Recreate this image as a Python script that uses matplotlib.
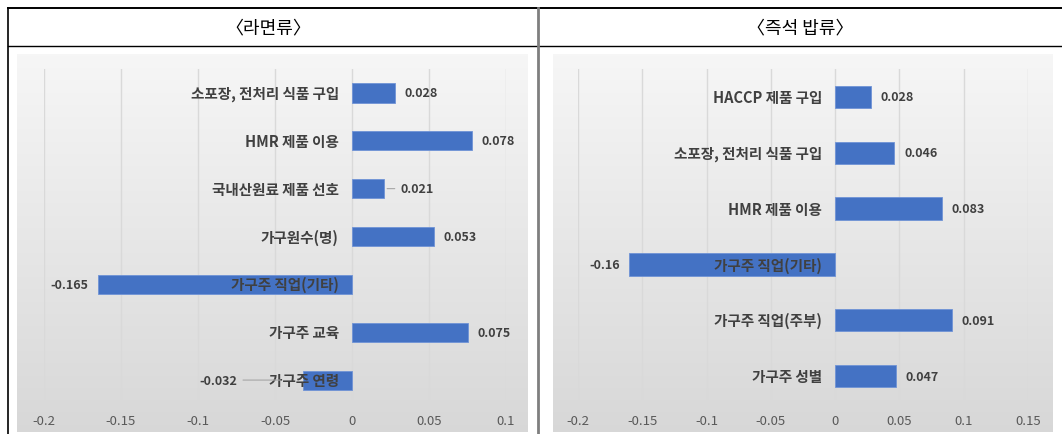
import numpy as np
import matplotlib
matplotlib.use("Agg")
import matplotlib.pyplot as plt
from matplotlib.lines import Line2D
from matplotlib.ticker import FixedLocator, FixedFormatter

plt.rcParams['font.family'] = ['Noto Sans CJK KR', 'DejaVu Sans']
plt.rcParams['axes.unicode_minus'] = False

# ---- data ----
ramen_title = "〈라면류〉"
ramen_categories = ["소포장, 전처리 식품 구입", "HMR 제품 이용", "국내산원료 제품 선호",
                    "가구원수(명)", "가구주 직업(기타)", "가구주 교육", "가구주 연령"]
ramen_values = [0.028, 0.078, 0.021, 0.053, -0.165, 0.075, -0.032]
ramen_ticks = [-0.2, -0.15, -0.1, -0.05, 0, 0.05, 0.1]
ramen_ticklabels = ["-0.2", "-0.15", "-0.1", "-0.05", "0", "0.05", "0.1"]

rice_title = "〈즉석 밥류〉"
rice_categories = ["HACCP 제품 구입", "소포장, 전처리 식품 구입", "HMR 제품 이용",
                   "가구주 직업(기타)", "가구주 직업(주부)", "가구주 성별"]
rice_values = [0.028, 0.046, 0.083, -0.16, 0.091, 0.047]
rice_ticks = [-0.2, -0.15, -0.1, -0.05, 0, 0.05, 0.1, 0.15]
rice_ticklabels = ["-0.2", "-0.15", "-0.1", "-0.05", "0", "0.05", "0.1", "0.15"]

# value labels pushed away from the bar end (points), with a leader line
ramen_label_push = {"국내산원료 제품 선호": 11.5, "가구주 연령": 47.0}

W, H = 1062, 435
fig = plt.figure(figsize=(W / 100, H / 100), dpi=100)
fig.patch.set_facecolor("white")


def rect(x0, y0, x1, y1):
    return [x0 / W, 1 - y1 / H, (x1 - x0) / W, (y1 - y0) / H]


def gradient_bg(box):
    ax = fig.add_axes(rect(*box), zorder=0)
    top = np.array([0.965, 0.965, 0.965])
    bot = np.array([0.845, 0.845, 0.845])
    t = np.linspace(0, 1, 256)[:, None, None]
    img = top[None, None, :] * (1 - t) + bot[None, None, :] * t
    ax.imshow(img, aspect="auto", extent=[0, 1, 0, 1], interpolation="bilinear")
    ax.set_axis_off()


BAR = "#4472C4"
TXT = "#404040"


def panel(box, xlim, cats, vals, ticks, ticklabels, push=None):
    push = push or {}
    ax = fig.add_axes(rect(*box), zorder=2)
    ax.patch.set_alpha(0)
    n = len(cats)
    y = np.arange(n)
    ax.barh(y, vals, height=0.4, color=BAR, edgecolor="#6f93d6", linewidth=0.6, zorder=2)
    ax.set_xlim(*xlim)
    ax.set_ylim(n - 0.5, -0.5)
    ax.xaxis.set_major_locator(FixedLocator(ticks))
    ax.xaxis.set_major_formatter(FixedFormatter(ticklabels))
    ax.set_yticks([])
    ax.tick_params(axis="x", length=0, pad=7, labelsize=9.5, labelcolor="#595959")
    for s in ax.spines.values():
        s.set_visible(False)
    ax.grid(axis="x", color="#d9d9d9", linewidth=1, zorder=1)
    ax.set_axisbelow(True)
    for i, (c, v) in enumerate(zip(cats, vals)):
        ax.annotate(c, xy=(0, i), xytext=(-9.5, 0), textcoords="offset points",
                    ha="right", va="center", fontsize=10.5, fontweight="bold",
                    color=TXT, zorder=4)
        sgn = 1 if v >= 0 else -1
        extra = push.get(c)
        off = 7 if extra is None else extra
        kw = {}
        if extra is not None:
            kw["arrowprops"] = dict(arrowstyle="-", color="#a6a6a6", lw=0.8,
                                    shrinkA=2, shrinkB=2 if sgn > 0 else 16)
        ax.annotate(f"{v:g}", xy=(v, i), xytext=(sgn * off, 0), textcoords="offset points",
                    ha="left" if sgn > 0 else "right", va="center", fontsize=9,
                    fontweight="bold", color=TXT, zorder=4, **kw)
    return ax


gradient_bg((17, 55, 528, 433))
gradient_bg((553, 55, 1053, 433))

panel((44, 70, 506, 405), (-0.2, 0.1), ramen_categories, ramen_values,
      ramen_ticks, ramen_ticklabels, ramen_label_push)
panel((578, 70, 1028, 405), (-0.2, 0.15), rice_categories, rice_values,
      rice_ticks, rice_ticklabels)

# table frame around the two panels
def fline(x0, y0, x1, y1, color="black", lw=1.2):
    fig.add_artist(Line2D([x0 / W, x1 / W], [1 - y0 / H, 1 - y1 / H],
                          transform=fig.transFigure, color=color, lw=lw, zorder=5))

fline(8, 9, W, 9, lw=1.4)
fline(8, 47, W, 47, lw=1.0)
fline(8, 9, 8, H, lw=1.2)
fline(537.5, 9, 537.5, H, color="#7f7f7f", lw=2.0)

fig.text(268 / W, 1 - 28 / H, ramen_title, ha="center", va="center",
         fontsize=13, color="black")
fig.text(800 / W, 1 - 28 / H, rice_title, ha="center", va="center",
         fontsize=13, color="black")

fig.savefig("out.png", dpi=100)
